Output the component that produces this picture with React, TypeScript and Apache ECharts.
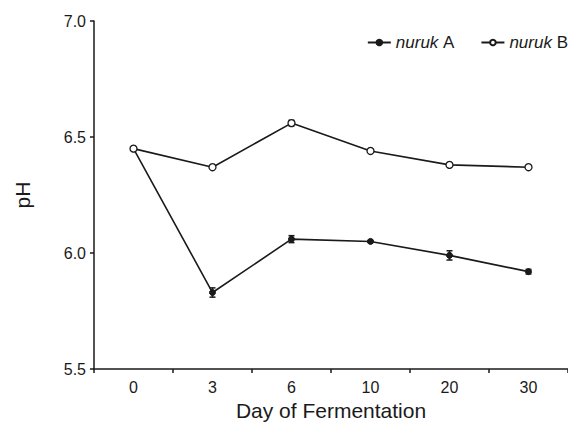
import React, { useEffect, useRef } from "react";
import * as echarts from "echarts";

const days = ["0", "3", "6", "10", "20", "30"];
const nurukA = [6.45, 5.83, 6.06, 6.05, 5.99, 5.92];
const nurukAErr = [0.0, 0.02, 0.015, 0.005, 0.02, 0.01];
const nurukB = [6.45, 6.37, 6.56, 6.44, 6.38, 6.37];
const nurukBErr = [0.0, 0.005, 0.012, 0.005, 0.005, 0.005];
const yTicks = [5.5, 6.0, 6.5, 7.0];

function errorSeries(values: number[], errs: number[]) {
  const data = values.map((v, i) => [i, v - errs[i], v + errs[i]]);
  return {
    type: "custom",
    silent: true,
    z: 4,
    data,
    renderItem: (params: any, api: any) => {
      const x = api.value(0);
      const lo = api.coord([x, api.value(1)]);
      const hi = api.coord([x, api.value(2)]);
      const w = 3;
      const style = { stroke: "#1a1a1a", lineWidth: 1.5 };
      return {
        type: "group",
        children: [
          { type: "line", shape: { x1: lo[0], y1: lo[1], x2: hi[0], y2: hi[1] }, style },
          { type: "line", shape: { x1: lo[0] - w, y1: lo[1], x2: lo[0] + w, y2: lo[1] }, style },
          { type: "line", shape: { x1: hi[0] - w, y1: hi[1], x2: hi[0] + w, y2: hi[1] }, style },
        ],
      };
    },
  };
}

export default function App() {
  const ref = useRef<HTMLDivElement>(null);
  useEffect(() => {
    if (!ref.current) return;
    const chart = echarts.init(ref.current, null, { renderer: "svg" });
    const font = "Liberation Sans, Arial, sans-serif";
    chart.setOption({
      animation: false,
      backgroundColor: "#fff",
      textStyle: { fontFamily: font },
      legend: {
        top: 34,
        right: 0,
        padding: 0,
        itemGap: 26,
        itemWidth: 23,
        itemHeight: 7,
        data: ["nuruk A", "nuruk B"],
        formatter: (name: string) => {
          const parts = name.split(" ");
          return `{i|${parts[0]}} {n|${parts[1]}}`;
        },
        textStyle: {
          color: "#1a1a1a",
          fontSize: 17,
          fontFamily: font,
          rich: {
            i: { fontStyle: "italic", fontSize: 17, fontFamily: font, color: "#1a1a1a" },
            n: { fontSize: 17, fontFamily: font, color: "#1a1a1a" },
          },
        },
      },
      grid: { left: 94, top: 21, width: 483, height: 349, containLabel: false },
      xAxis: {
        type: "category",
        data: days,
        boundaryGap: true,
        name: "Day of Fermentation",
        nameLocation: "middle",
        nameGap: 30,
        nameTextStyle: { fontSize: 21, color: "#1a1a1a", fontFamily: font },
        axisLine: { lineStyle: { color: "#1a1a1a", width: 1.5 } },
        axisTick: { show: true, length: 4, lineStyle: { color: "#1a1a1a", width: 1.5 } },
        axisLabel: { fontSize: 16, color: "#1a1a1a", margin: 10, fontFamily: font },
        splitLine: { show: false },
      },
      yAxis: {
        type: "value",
        min: 5.5,
        max: 7.0,
        interval: 0.5,
        name: "pH",
        nameLocation: "middle",
        nameGap: 61,
        nameRotate: 90,
        nameTextStyle: { fontSize: 21, color: "#1a1a1a", fontFamily: font },
        axisLine: { show: true, lineStyle: { color: "#1a1a1a", width: 1.5 } },
        axisTick: { show: true, length: 4, lineStyle: { color: "#1a1a1a", width: 1.5 } },
        axisLabel: {
          fontSize: 16,
          color: "#1a1a1a",
          margin: 8,
          fontFamily: font,
          formatter: (v: number) => (yTicks.includes(v) ? v.toFixed(1) : ""),
        },
        splitLine: { show: false },
      },
      series: [
        {
          name: "nuruk A",
          type: "line",
          data: nurukA,
          symbol: "circle",
          symbolSize: 6,
          z: 3,
          lineStyle: { color: "#1a1a1a", width: 1.6 },
          itemStyle: { color: "#1a1a1a", borderColor: "#1a1a1a", borderWidth: 1 },
        },
        {
          name: "nuruk B",
          type: "line",
          data: nurukB,
          symbol: "circle",
          symbolSize: 7,
          showAllSymbol: true,
          z: 5,
          lineStyle: { color: "#1a1a1a", width: 1.6 },
          itemStyle: { color: "#ffffff", borderColor: "#1a1a1a", borderWidth: 1.3 },
        },
        errorSeries(nurukA, nurukAErr),
        errorSeries(nurukB, nurukBErr),
      ],
    });
    return () => chart.dispose();
  }, []);
  return (
    <div
      ref={ref}
      style={{ position: "fixed", left: 0, top: 0, width: 568, height: 426, overflow: "hidden" }}
    />
  );
}
